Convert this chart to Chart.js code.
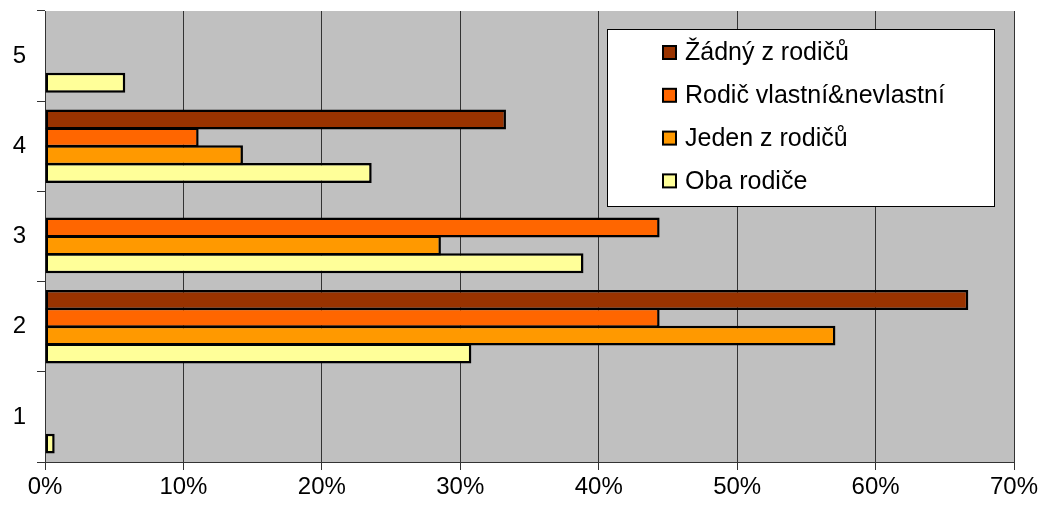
<!DOCTYPE html>
<html>
<head>
<meta charset="utf-8">
<script src="https://cdn.jsdelivr.net/npm/chart.js@4"></script>
<style>
  html, body { margin: 0; padding: 0; background: #fff; }
  #wrap { width: 1042px; height: 510px; position: relative; }
</style>
</head>
<body>
<div id="wrap"><canvas id="chart"></canvas></div>
<script>
// categories bottom -> top
var categories = ['1', '2', '3', '4', '5'];

var seriesNames = ['Žádný z rodičů', 'Rodič vlastní&nevlastní', 'Jeden z rodičů', 'Oba rodiče'];
var seriesColors = ['#993300', '#FF6600', '#FF9900', '#FFFF99'];

// percent values per category (null = no bar)
var zadny = [null, 66.7, null, 33.3, null];
var rodicVlastni = [null, 44.4, 44.4, 11.1, null];
var jeden = [null, 57.1, 28.6, 14.3, null];
var oba = [0.7, 30.8, 38.9, 23.6, 5.8];

var xTicks = [0, 10, 20, 30, 40, 50, 60, 70];

var FONT = '"Liberation Sans", Arial, sans-serif';

// gray plot background
const plotBg = {
    id: 'plotBg',
    beforeDraw(chart) {
        const a = chart.chartArea;
        const ctx = chart.ctx;
        ctx.save();
        ctx.fillStyle = '#C0C0C0';
        ctx.fillRect(a.left, a.top, a.right - a.left, a.bottom - a.top);
        ctx.restore();
    }
};

// boxed legend inside the plot, top right
const legendBox = {
    id: 'legendBox',
    afterDraw(chart) {
        const ctx = chart.ctx;
        const bx = 607, by = 29, bw = 387, bh = 177;
        ctx.save();
        ctx.fillStyle = '#fff';
        ctx.fillRect(bx, by, bw, bh);
        ctx.strokeStyle = '#000';
        ctx.lineWidth = 1;
        ctx.strokeRect(bx + 0.5, by + 0.5, bw, bh);

        ctx.font = '25px ' + FONT;
        ctx.textBaseline = 'middle';
        ctx.textAlign = 'left';
        chart.data.datasets.forEach(function(ds, i) {
            var cy = 52.5 + i * 42.8;
            ctx.fillStyle = ds.backgroundColor;
            ctx.fillRect(663, cy - 6.5, 13, 13);
            ctx.lineWidth = 2;
            ctx.strokeStyle = '#000';
            ctx.strokeRect(663, cy - 6.5, 13, 13);
            ctx.fillStyle = '#000';
            ctx.fillText(ds.label, 685, cy + 1);
        });
        ctx.restore();
    }
};

var seriesData = [zadny, rodicVlastni, jeden, oba];
var datasets = seriesNames.map(function(name, i) {
    return {
        label: name,
        data: seriesData[i],
        backgroundColor: seriesColors[i],
        borderColor: '#000',
        borderWidth: 2.5,
        borderSkipped: false,
        barPercentage: 1.12,
        categoryPercentage: 0.79
    };
});

new Chart(document.getElementById('chart'), {
    type: 'bar',
    data: { labels: categories, datasets: datasets },
    options: {
        indexAxis: 'y',
        responsive: true,
        maintainAspectRatio: false,
        animation: false,
        layout: { padding: { left: 0, top: 11, right: 28, bottom: 0 } },
        plugins: {
            legend: { display: false },
            tooltip: { enabled: false }
        },
        scales: {
            x: {
                min: 0,
                max: 70,
                afterFit: function(s) { s.height = 48; s.paddingLeft = 0; s.paddingRight = 0; },
                afterBuildTicks: function(s) { s.ticks = xTicks.map(function(v) { return { value: v }; }); },
                ticks: {
                    color: '#000',
                    font: { family: FONT, size: 24 },
                    padding: 3,
                    callback: function(v) { return v + '%'; }
                },
                grid: { color: '#333', lineWidth: 1, tickLength: 8, drawTicks: true },
                border: { color: '#333', width: 1 }
            },
            y: {
                reverse: true,
                afterFit: function(s) { s.width = 45; s.paddingTop = 0; s.paddingBottom = 0; },
                ticks: {
                    color: '#000',
                    font: { family: FONT, size: 24 },
                    padding: 11
                },
                grid: { drawOnChartArea: false, color: '#333', tickLength: 8, offset: true },
                border: { color: '#333', width: 1 }
            }
        }
    },
    plugins: [plotBg, legendBox]
});
</script>
</body>
</html>
